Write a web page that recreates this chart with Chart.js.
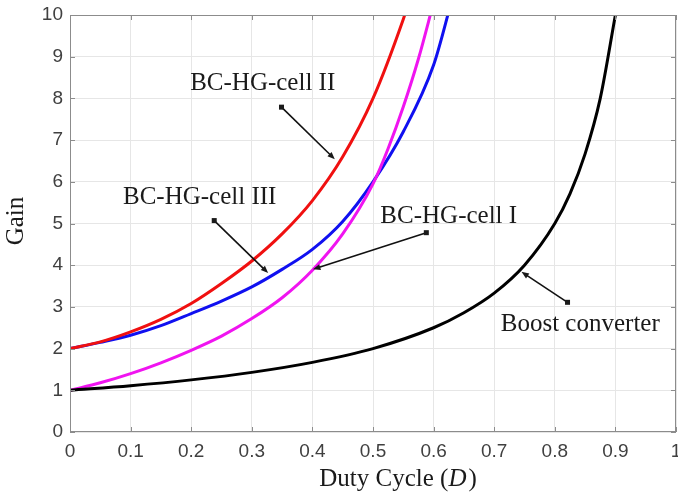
<!DOCTYPE html>
<html lang="en">
<head>
    <meta charset="UTF-8">
    <title>Gain vs Duty Cycle</title>
    <script src="https://cdn.jsdelivr.net/npm/chart.js@4/dist/chart.umd.min.js"></script>
    <style>
        html, body { margin: 0; padding: 0; background: #fff; }
        #wrap { width: 678px; height: 493px; }
    </style>
</head>
<body>
<div id="wrap"><canvas id="gainChart" width="678" height="493"></canvas></div>

<script>
    // duty cycle D and gain
    const boostD    = [0, 0.1, 0.2, 0.3, 0.4, 0.5, 0.6, 0.65, 0.7, 0.75, 0.8, 0.825, 0.85, 0.875, 0.9];
    const boostGain = [1, 1.11, 1.25, 1.43, 1.67, 2.0, 2.5, 2.86, 3.33, 4.0, 5.0, 5.71, 6.67, 8.0, 10];

    const cell1D    = [0, 0.05, 0.1, 0.15, 0.2, 0.25, 0.3, 0.35, 0.4, 0.45, 0.5, 0.525, 0.55, 0.575, 0.6];
    const cell1Gain = [1, 1.18, 1.4, 1.66, 1.96, 2.3, 2.72, 3.22, 3.88, 4.75, 5.95, 6.8, 7.8, 8.95, 10.3];

    const cell2D    = [0, 0.05, 0.1, 0.15, 0.2, 0.25, 0.3, 0.35, 0.4, 0.45, 0.5, 0.55, 0.57];
    const cell2Gain = [2, 2.16, 2.4, 2.7, 3.08, 3.56, 4.1, 4.75, 5.55, 6.6, 8.0, 9.9, 10.8];

    const cell3D    = [0, 0.05, 0.1, 0.15, 0.2, 0.25, 0.3, 0.35, 0.4, 0.45, 0.5, 0.55, 0.6, 0.63];
    const cell3Gain = [2, 2.15, 2.32, 2.55, 2.84, 3.14, 3.48, 3.9, 4.38, 5.05, 6.0, 7.2, 8.8, 10.35];

    const xTicks = [0, 0.1, 0.2, 0.3, 0.4, 0.5, 0.6, 0.7, 0.8, 0.9, 1];
    const yTicks = [0, 1, 2, 3, 4, 5, 6, 7, 8, 9, 10];

    // annotation labels: text centre, arrow tail (square) and arrow head, in data units
    const noteText  = ['BC-HG-cell II', 'BC-HG-cell III', 'BC-HG-cell I', 'Boost converter'];
    const noteAt    = [[0.318, 8.37], [0.214, 5.62], [0.625, 5.18], [0.842, 2.59]];
    const arrowFrom = [[0.349, 7.79], [0.238, 5.07], [0.588, 4.78], [0.821, 3.11]];
    const arrowTo   = [[0.437, 6.54], [0.327, 3.81], [0.401, 3.90], [0.745, 3.84]];

    function pts(xs, ys) {
        return xs.map((x, i) => ({ x: x, y: ys[i] }));
    }

    function series(label, xs, ys, color) {
        return {
            label: label,
            data: pts(xs, ys),
            borderColor: color,
            borderWidth: 3,
            pointRadius: 0,
            fill: false,
            cubicInterpolationMode: 'monotone'
        };
    }

    const frame = {
        id: 'frame',
        afterDatasetsDraw(chart) {
            const ctx = chart.ctx, a = chart.chartArea;
            const xs = chart.scales.x, ys = chart.scales.y;
            ctx.save();
            ctx.strokeStyle = '#8c8c8c';
            ctx.lineWidth = 1;
            ctx.strokeRect(a.left + 0.5, a.top + 0.5, a.right - a.left - 1, a.bottom - a.top - 1);
            // inward ticks on all four sides
            ctx.beginPath();
            xTicks.forEach(v => {
                const px = Math.round(xs.getPixelForValue(v)) + 0.5;
                ctx.moveTo(px, a.bottom); ctx.lineTo(px, a.bottom - 5);
                ctx.moveTo(px, a.top); ctx.lineTo(px, a.top + 5);
            });
            yTicks.forEach(v => {
                const py = Math.round(ys.getPixelForValue(v)) + 0.5;
                ctx.moveTo(a.left, py); ctx.lineTo(a.left + 5, py);
                ctx.moveTo(a.right, py); ctx.lineTo(a.right - 5, py);
            });
            ctx.stroke();

            // annotations
            ctx.fillStyle = '#1a1a1a';
            ctx.strokeStyle = '#111';
            ctx.font = '25px "Liberation Serif", "Times New Roman", serif';
            ctx.textAlign = 'center';
            ctx.textBaseline = 'middle';
            noteText.forEach((t, i) => {
                ctx.fillText(t, xs.getPixelForValue(noteAt[i][0]), ys.getPixelForValue(noteAt[i][1]));
                const x0 = xs.getPixelForValue(arrowFrom[i][0]), y0 = ys.getPixelForValue(arrowFrom[i][1]);
                const x1 = xs.getPixelForValue(arrowTo[i][0]), y1 = ys.getPixelForValue(arrowTo[i][1]);
                const ang = Math.atan2(y1 - y0, x1 - x0);
                ctx.lineWidth = 1.6;
                ctx.beginPath();
                ctx.moveTo(x0, y0);
                ctx.lineTo(x1 - 5 * Math.cos(ang), y1 - 5 * Math.sin(ang));
                ctx.stroke();
                ctx.fillRect(x0 - 2.5, y0 - 2.5, 5, 5);
                ctx.beginPath();
                ctx.moveTo(x1, y1);
                ctx.lineTo(x1 - 8 * Math.cos(ang - 0.38), y1 - 8 * Math.sin(ang - 0.38));
                ctx.lineTo(x1 - 8 * Math.cos(ang + 0.38), y1 - 8 * Math.sin(ang + 0.38));
                ctx.closePath();
                ctx.fill();
            });

            // x axis title with italic D
            const base = 479;
            const cx = 398;
            const f1 = '25px "Liberation Serif", "Times New Roman", serif';
            const f2 = 'italic 25px "Liberation Serif", "Times New Roman", serif';
            ctx.textAlign = 'left';
            ctx.textBaseline = 'middle';
            ctx.font = f1;
            const w1 = ctx.measureText('Duty Cycle (').width;
            const w3 = ctx.measureText(')').width;
            ctx.font = f2;
            const w2 = ctx.measureText('D').width + 2;
            let x = cx - (w1 + w2 + w3) / 2;
            ctx.font = f1;
            ctx.fillText('Duty Cycle (', x, base);
            ctx.font = f2;
            ctx.fillText('D', x + w1, base);
            ctx.font = f1;
            ctx.fillText(')', x + w1 + w2, base);

            // y axis title
            ctx.translate(16, 221);
            ctx.rotate(-Math.PI / 2);
            ctx.textAlign = 'center';
            ctx.fillText('Gain', 0, 0);
            ctx.restore();
        }
    };

    const ctx = document.getElementById('gainChart').getContext('2d');
    const chart = new Chart(ctx, {
        type: 'line',
        data: {
            datasets: [
                series('Boost converter', boostD, boostGain, '#000000'),
                series('BC-HG-cell I', cell1D, cell1Gain, '#f014f0'),
                series('BC-HG-cell II', cell2D, cell2Gain, '#f01010'),
                series('BC-HG-cell III', cell3D, cell3Gain, '#1010f0')
            ]
        },
        options: {
            responsive: false,
            animation: false,
            layout: { padding: { left: 0, right: 2, top: 15, bottom: 0 } },
            plugins: { legend: { display: false }, tooltip: { enabled: false } },
            scales: {
                x: {
                    type: 'linear',
                    min: 0, max: 1,
                    afterBuildTicks: s => { s.ticks = xTicks.map(v => ({ value: v })); },
                    afterFit: s => { s.height = 61; s.paddingLeft = 0; s.paddingRight = 0; },
                    ticks: {
                        color: '#404040',
                        font: { family: '"Liberation Sans", Arial, sans-serif', size: 19 },
                        padding: 8,
                        maxRotation: 0,
                        autoSkip: false,
                        callback: v => String(+v.toFixed(1))
                    },
                    grid: { color: '#e6e6e6', drawTicks: false },
                    border: { display: false }
                },
                y: {
                    min: 0, max: 10,
                    afterBuildTicks: s => { s.ticks = yTicks.map(v => ({ value: v })); },
                    afterFit: s => { s.width = 70; s.paddingTop = 0; s.paddingBottom = 0; },
                    ticks: {
                        color: '#404040',
                        font: { family: '"Liberation Sans", Arial, sans-serif', size: 19 },
                        padding: 7,
                        autoSkip: false
                    },
                    grid: { color: '#e6e6e6', drawTicks: false },
                    border: { display: false }
                }
            }
        },
        plugins: [frame]
    });
</script>
</body>
</html>
